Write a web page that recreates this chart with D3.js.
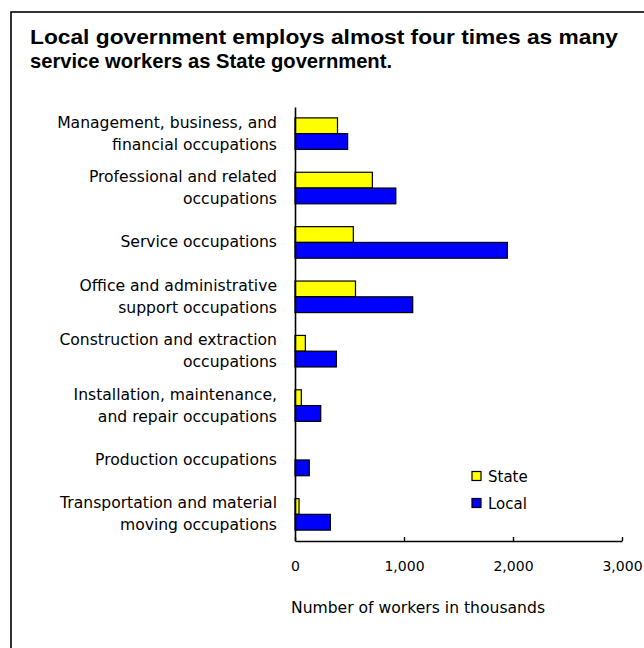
<!DOCTYPE html>
<html>
<head>
<meta charset="utf-8">
<script src="https://cdn.jsdelivr.net/npm/d3@7"></script>
<style>
  html, body { margin: 0; padding: 0; background: #fff; }
  svg { display: block; }
</style>
</head>
<body>
<div id="chart"></div>
<script>
// occupations, each label split over the lines shown in the picture
const categories = [
  ["Management, business, and", "financial occupations"],
  ["Professional and related", "occupations"],
  ["Service occupations"],
  ["Office and administrative", "support occupations"],
  ["Construction and extraction", "occupations"],
  ["Installation, maintenance,", "and repair occupations"],
  ["Production occupations"],
  ["Transportation and material", "moving occupations"]
];
// workers in thousands
const stateValues = [390, 710, 535, 555, 95, 58, 0, 37];
const localValues = [483, 925, 1948, 1080, 380, 236, 131, 325];
const seriesNames = ["State", "Local"];
const seriesColors = ["#ffff00", "#0000ff"];
const xTicks = [0, 1000, 2000, 3000];

const width = 644, height = 648;
const svg = d3.select("#chart").append("svg")
  .attr("width", width)
  .attr("height", height);

// frame (runs off the right and bottom edge)
svg.append("rect")
  .attr("x", 11).attr("y", 12)
  .attr("width", 660).attr("height", 660)
  .attr("fill", "none")
  .attr("stroke", "#000")
  .attr("stroke-width", 1.6);

// title
const titleLines = [
  { text: "Local government employs almost four times as many", y: 44, len: 588 },
  { text: "service workers as State government.", y: 68, len: 362 }
];
svg.selectAll(".title")
  .data(titleLines)
  .enter()
  .append("text")
  .attr("class", "title")
  .attr("x", 30)
  .attr("y", d => d.y)
  .attr("textLength", d => d.len)
  .attr("lengthAdjust", "spacingAndGlyphs")
  .style("font-family", "'Liberation Sans', Arial, sans-serif")
  .style("font-weight", "bold")
  .style("font-size", "21px")
  .text(d => d.text);

const labelFont = "'DejaVu Sans', sans-serif";

var x = d3.scaleLinear()
  .domain([0, 3000])
  .range([295, 622]);

var y = d3.scaleBand()
  .domain(d3.range(categories.length))
  .range([107, 541])
  .paddingInner(0.42)
  .paddingOuter(0.2);

var ySub = d3.scaleBand()
  .domain(seriesNames)
  .range([0, y.bandwidth()]);

// bars
const rows = categories.map((c, i) => ({
  i: i,
  values: [
    { name: "State", value: stateValues[i] },
    { name: "Local", value: localValues[i] }
  ]
}));

const groups = svg.selectAll(".cat")
  .data(rows)
  .enter()
  .append("g")
  .attr("class", "cat")
  .attr("transform", d => `translate(0, ${y(d.i)})`);

groups.selectAll("rect")
  .data(d => d.values.filter(v => v.value > 0))
  .enter()
  .append("rect")
  .attr("x", x(0))
  .attr("y", d => ySub(d.name))
  .attr("width", d => x(d.value) - x(0))
  .attr("height", ySub.bandwidth())
  .attr("fill", d => seriesColors[seriesNames.indexOf(d.name)])
  .attr("stroke", "#000")
  .attr("stroke-width", 1.2);

// category labels
svg.selectAll(".catlabel")
  .data(categories)
  .enter()
  .append("text")
  .attr("class", "catlabel")
  .attr("text-anchor", "end")
  .style("font-family", labelFont)
  .style("font-size", "15.6px")
  .style("fill", "#000")
  .each(function (lines, i) {
    const cy = y(i) + y.bandwidth() / 2;
    const t = d3.select(this);
    if (lines.length === 1) {
      t.append("tspan").attr("x", 277).attr("y", cy + 5).text(lines[0]);
    } else {
      t.append("tspan").attr("x", 277).attr("y", cy - 6).text(lines[0]);
      t.append("tspan").attr("x", 277).attr("y", cy + 16).text(lines[1]);
    }
  });

// axes
const yAxis = d3.axisLeft(y).tickSize(0).tickFormat("");
svg.append("g")
  .attr("transform", `translate(${x(0)}, 0)`)
  .call(yAxis)
  .call(g => g.select(".domain").attr("stroke", "#000").attr("stroke-width", 1.6));

const xAxis = d3.axisBottom(x)
  .tickValues(xTicks)
  .tickFormat(d3.format(","))
  .tickSizeInner(-4)
  .tickSizeOuter(0)
  .tickPadding(20);
svg.append("g")
  .attr("transform", "translate(0, 541)")
  .call(xAxis)
  .call(g => g.select(".domain").attr("stroke", "#000").attr("stroke-width", 1.6))
  .call(g => g.selectAll(".tick line").attr("stroke", "#000").attr("stroke-width", 1.4))
  .call(g => g.selectAll(".tick text")
    .style("font-family", labelFont)
    .style("font-size", "14px")
    .attr("fill", "#000"));

// axis title
svg.append("text")
  .attr("x", 418)
  .attr("y", 613)
  .attr("text-anchor", "middle")
  .style("font-family", labelFont)
  .style("font-size", "15.6px")
  .text("Number of workers in thousands");

// legend
const legend = svg.selectAll(".legend")
  .data(seriesNames)
  .enter()
  .append("g")
  .attr("class", "legend")
  .attr("transform", (d, i) => `translate(472, ${471.5 + i * 27})`);

legend.append("rect")
  .attr("width", 9)
  .attr("height", 9)
  .attr("fill", (d, i) => seriesColors[i])
  .attr("stroke", "#000")
  .attr("stroke-width", 1.2);

legend.append("text")
  .attr("x", 16)
  .attr("y", 10)
  .style("font-family", labelFont)
  .style("font-size", "15px")
  .text(d => d);
</script>
</body>
</html>
